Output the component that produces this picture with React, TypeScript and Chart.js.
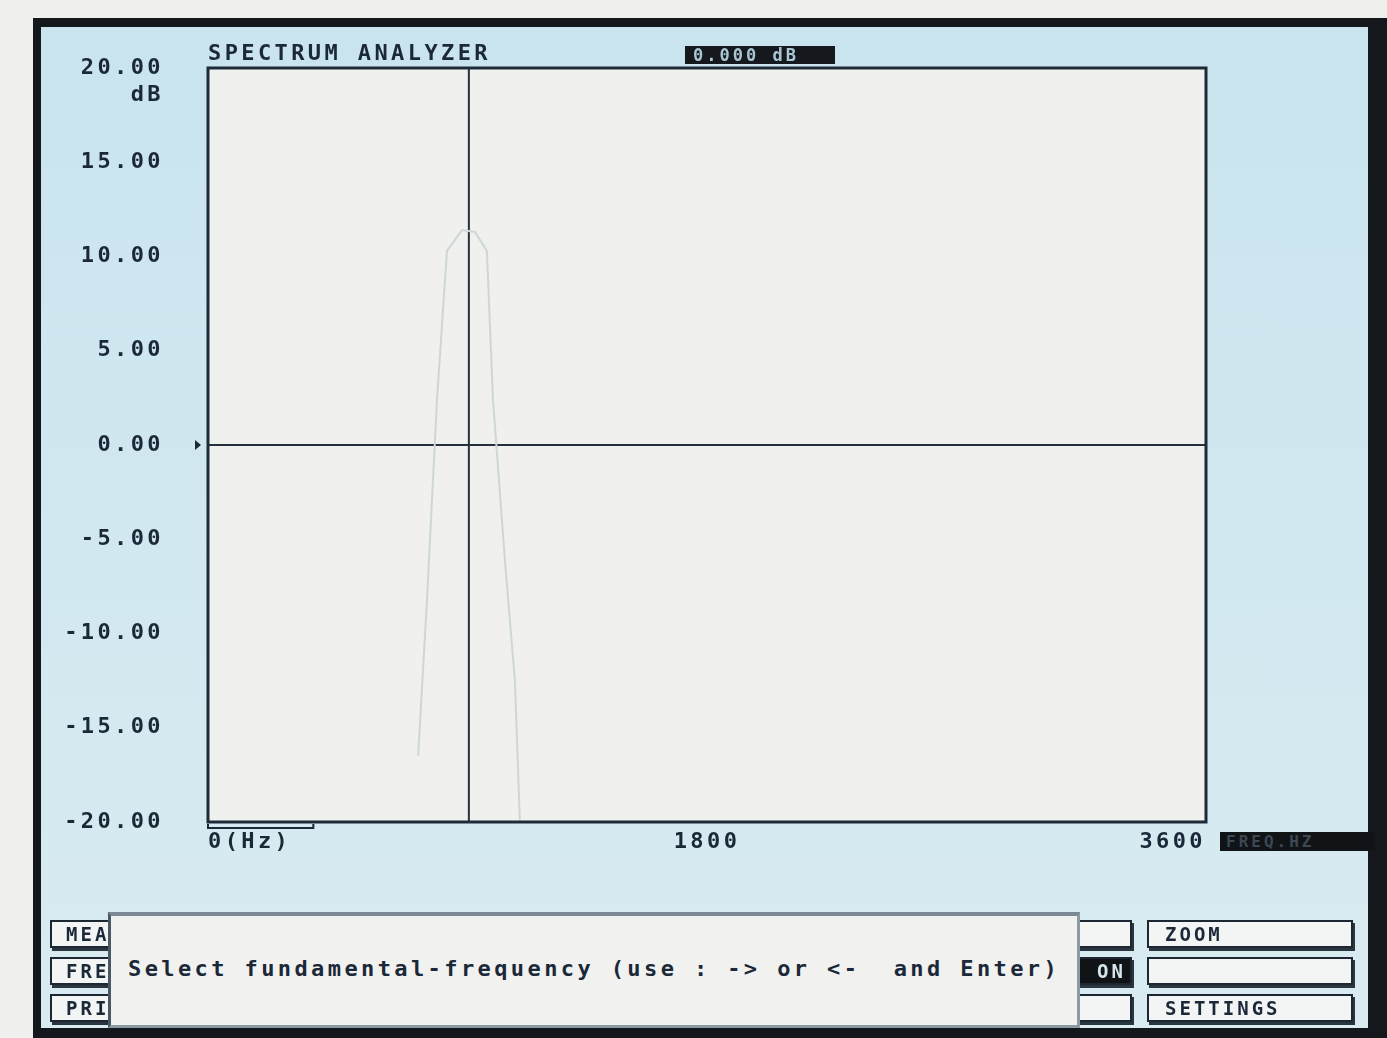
import React, { useEffect, useRef } from 'react';
import { Chart, registerables } from 'chart.js';

Chart.register(...registerables);

// ---- data ----
const FREQ_MIN = 0;
const FREQ_MAX = 3600;
const DB_MIN = -20;
const DB_MAX = 20;
const DB_STEP = 5;
const X_TICKS = [0, 1800, 3600];
const X_TICK_LABELS = ['0(Hz)', '1800', '3600'];
const PEAK_FREQ = [758, 790, 826, 862, 916, 963, 1006, 1028, 1071, 1107, 1125];
const PEAK_DB = [-16.5, -8.2, 2.4, 10.3, 11.4, 11.3, 10.3, 2.4, -6.1, -12.5, -20];
const CURSOR_HZ = 941;
const ZOOM_SPAN_HZ = 380;
const TITLE = 'SPECTRUM ANALYZER';
const Y_UNIT = 'dB';
const LEVEL_READOUT = '0.000';
const PROMPT = 'Select fundamental-frequency (use : -> or <-  and Enter)';
const LEFT_BUTTONS = ['MEASURE', 'FREQUENCY', 'PRINT'];
const MID_BUTTONS = ['', 'CURSOR ON', ''];
const RIGHT_BUTTONS = ['ZOOM', '', 'SETTINGS'];

const INK = '#1b2838';
const MONO = '"DejaVu Sans Mono", "Liberation Mono", monospace';

export default function App() {
  const ref = useRef<HTMLCanvasElement>(null);

  useEffect(() => {
    const canvas = ref.current;
    if (!canvas) return;

    const crt = {
      id: 'crt',
      beforeDraw(chart: any) {
        const { ctx, chartArea: a } = chart;
        ctx.save();
        ctx.fillStyle = '#f0f0ee';
        ctx.fillRect(a.left, a.top, a.right - a.left, a.bottom - a.top);
        ctx.restore();
        (ctx as any).letterSpacing = '3.4px';
      },
      afterDatasetsDraw(chart: any) {
        const { ctx, chartArea: a } = chart;
        ctx.save();
        ctx.strokeStyle = '#1d2a38';
        ctx.lineWidth = 3;
        ctx.strokeRect(a.left, a.top, a.right - a.left, a.bottom - a.top);
        ctx.restore();
      },
      afterDraw(chart: any) {
        const { ctx, chartArea: a, scales } = chart;
        const y = scales.y;
        const x = scales.x;
        ctx.save();
        ctx.fillStyle = INK;
        ctx.font = `bold 22px ${MONO}`;
        ctx.textAlign = 'right';
        ctx.textBaseline = 'middle';
        ctx.fillText(Y_UNIT, a.left - 44, y.getPixelForValue(DB_MAX) + 27);
        // zero-level marker
        const y0 = y.getPixelForValue(0);
        ctx.beginPath();
        ctx.moveTo(a.left - 13, y0 - 5);
        ctx.lineTo(a.left - 7, y0);
        ctx.lineTo(a.left - 13, y0 + 5);
        ctx.closePath();
        ctx.fill();
        // zoom span bracket
        const x0 = x.getPixelForValue(FREQ_MIN);
        const x1 = x.getPixelForValue(ZOOM_SPAN_HZ);
        const by = a.bottom + 6;
        ctx.strokeStyle = INK;
        ctx.lineWidth = 2;
        ctx.beginPath();
        ctx.moveTo(x0, by - 4);
        ctx.lineTo(x0, by);
        ctx.lineTo(x1, by);
        ctx.lineTo(x1, by - 4);
        ctx.stroke();
        ctx.restore();
        (ctx as any).letterSpacing = '0px';
      },
    };

    const font = { family: MONO, size: 22, weight: 'bold' as const, lineHeight: 1.2 };

    const chart = new Chart(canvas, {
      type: 'line',
      data: {
        datasets: [
          {
            label: 'Spectrum',
            data: PEAK_FREQ.map((f, i) => ({ x: f, y: PEAK_DB[i] })),
            borderColor: '#cdd8d6',
            borderWidth: 2,
            pointRadius: 0,
            tension: 0,
          },
          {
            label: 'Cursor',
            data: [
              { x: CURSOR_HZ, y: DB_MIN },
              { x: CURSOR_HZ, y: DB_MAX },
            ],
            borderColor: '#27313c',
            borderWidth: 2,
            pointRadius: 0,
          },
        ],
      },
      options: {
        responsive: false,
        animation: false,
        devicePixelRatio: 1,
        layout: { padding: { left: 0, top: 38, right: 181, bottom: 166 } },
        plugins: {
          legend: { display: false },
          tooltip: { enabled: false },
          title: {
            display: true,
            text: TITLE,
            align: 'start',
            fullSize: false,
            color: INK,
            font,
            padding: { top: 3, bottom: 0.6 },
          },
        },
        scales: {
          x: {
            type: 'linear',
            min: FREQ_MIN,
            max: FREQ_MAX,
            afterBuildTicks: (s: any) => {
              s.ticks = X_TICKS.map((v) => ({ value: v }));
            },
            afterFit: (s: any) => {
              s.height = 50;
            },
            grid: { display: false, drawTicks: false },
            border: { display: false },
            ticks: {
              align: 'inner',
              maxRotation: 0,
              autoSkip: false,
              padding: 7,
              color: INK,
              font,
              callback: (v: any) => {
                const i = X_TICKS.indexOf(Number(v));
                return i >= 0 ? X_TICK_LABELS[i] : '';
              },
            },
          },
          y: {
            min: DB_MIN,
            max: DB_MAX,
            afterFit: (s: any) => {
              s.width = 208;
            },
            grid: {
              drawTicks: false,
              lineWidth: 2,
              color: (c: any) => (c.tick && c.tick.value === 0 ? '#27313c' : 'rgba(0,0,0,0)'),
            },
            border: { display: false },
            ticks: {
              stepSize: DB_STEP,
              padding: 44,
              color: INK,
              font,
              callback: (v: any) => Number(v).toFixed(2),
            },
          },
        },
      },
      plugins: [crt],
    } as any);

    return () => chart.destroy();
  }, []);

  const btnBase: React.CSSProperties = {
    position: 'fixed',
    height: 24,
    background: '#f3f5f5',
    border: '2px solid #1d2733',
    boxShadow: '2px 3px 0 #2b3540',
    fontFamily: MONO,
    fontWeight: 'bold',
    fontSize: 19,
    letterSpacing: '3px',
    color: INK,
    lineHeight: '24px',
    overflow: 'hidden',
    whiteSpace: 'nowrap',
    boxSizing: 'content-box',
  };
  const rows = [920, 957, 994];

  return (
    <div>
      <div style={{ position: 'fixed', inset: 0, background: '#efefed', zIndex: 0 }} />
      <div
        style={{
          position: 'fixed',
          left: 33,
          top: 18,
          right: 0,
          bottom: 0,
          background: '#14171b',
          zIndex: 0,
        }}
      >
        <div
          style={{
            position: 'absolute',
            left: 8,
            top: 9,
            right: 19,
            bottom: 10,
            background: 'linear-gradient(180deg, #c9e4ee 0%, #d2e8f0 55%, #d9ebf1 100%)',
          }}
        />
      </div>
      <canvas
        ref={ref}
        width={1387}
        height={1038}
        style={{ position: 'fixed', left: 0, top: 0, width: 1387, height: 1038, zIndex: 1 }}
      />
      <div
        style={{
          position: 'fixed',
          left: 685,
          top: 46,
          width: 150,
          height: 18,
          background: '#15181c',
          color: '#a9c6d2',
          fontFamily: MONO,
          fontWeight: 'bold',
          fontSize: 17,
          lineHeight: '18px',
          letterSpacing: '3px',
          paddingLeft: 8,
          boxSizing: 'border-box',
          zIndex: 2,
          whiteSpace: 'nowrap',
        }}
      >
        {LEVEL_READOUT} {Y_UNIT}
      </div>
      <div
        style={{
          position: 'fixed',
          left: 1220,
          top: 832,
          width: 155,
          height: 19,
          background: '#111417',
          color: '#3c4854',
          fontFamily: MONO,
          fontWeight: 'bold',
          fontSize: 16,
          lineHeight: '19px',
          letterSpacing: '3px',
          paddingLeft: 6,
          boxSizing: 'border-box',
          zIndex: 2,
          whiteSpace: 'nowrap',
          overflow: 'hidden',
        }}
      >
        FREQ.HZ
      </div>
      {LEFT_BUTTONS.map((t, i) => (
        <div key={'l' + i} style={{ ...btnBase, left: 50, top: rows[i], width: 60, paddingLeft: 14, zIndex: 2 }}>
          {t}
        </div>
      ))}
      {MID_BUTTONS.map((t, i) => (
        <div
          key={'m' + i}
          style={{
            ...btnBase,
            left: 1040,
            top: rows[i],
            width: 84,
            paddingRight: 4,
            display: 'flex',
            justifyContent: 'flex-end',
            zIndex: 2,
            background: i === 1 ? '#111417' : '#f3f5f5',
            color: i === 1 ? '#d3e6ee' : INK,
          }}
        >
          {t}
        </div>
      ))}
      {RIGHT_BUTTONS.map((t, i) => (
        <div key={'r' + i} style={{ ...btnBase, left: 1147, top: rows[i], width: 186, paddingLeft: 16, zIndex: 2 }}>
          {t}
        </div>
      ))}
      <div
        style={{
          position: 'fixed',
          left: 108,
          top: 912,
          width: 972,
          height: 116,
          boxSizing: 'border-box',
          background: '#f1f1ef',
          borderTop: '4px solid #7a8994',
          borderLeft: '3px solid #4a5866',
          borderRight: '3px solid #8d9aa4',
          borderBottom: '3px solid #8d9aa4',
          zIndex: 3,
          display: 'flex',
          alignItems: 'center',
          paddingLeft: 17,
          paddingBottom: 4,
          fontFamily: MONO,
          fontWeight: 'bold',
          fontSize: 22,
          letterSpacing: '3.4px',
          color: INK,
          whiteSpace: 'pre',
        }}
      >
        {PROMPT}
      </div>
    </div>
  );
}
